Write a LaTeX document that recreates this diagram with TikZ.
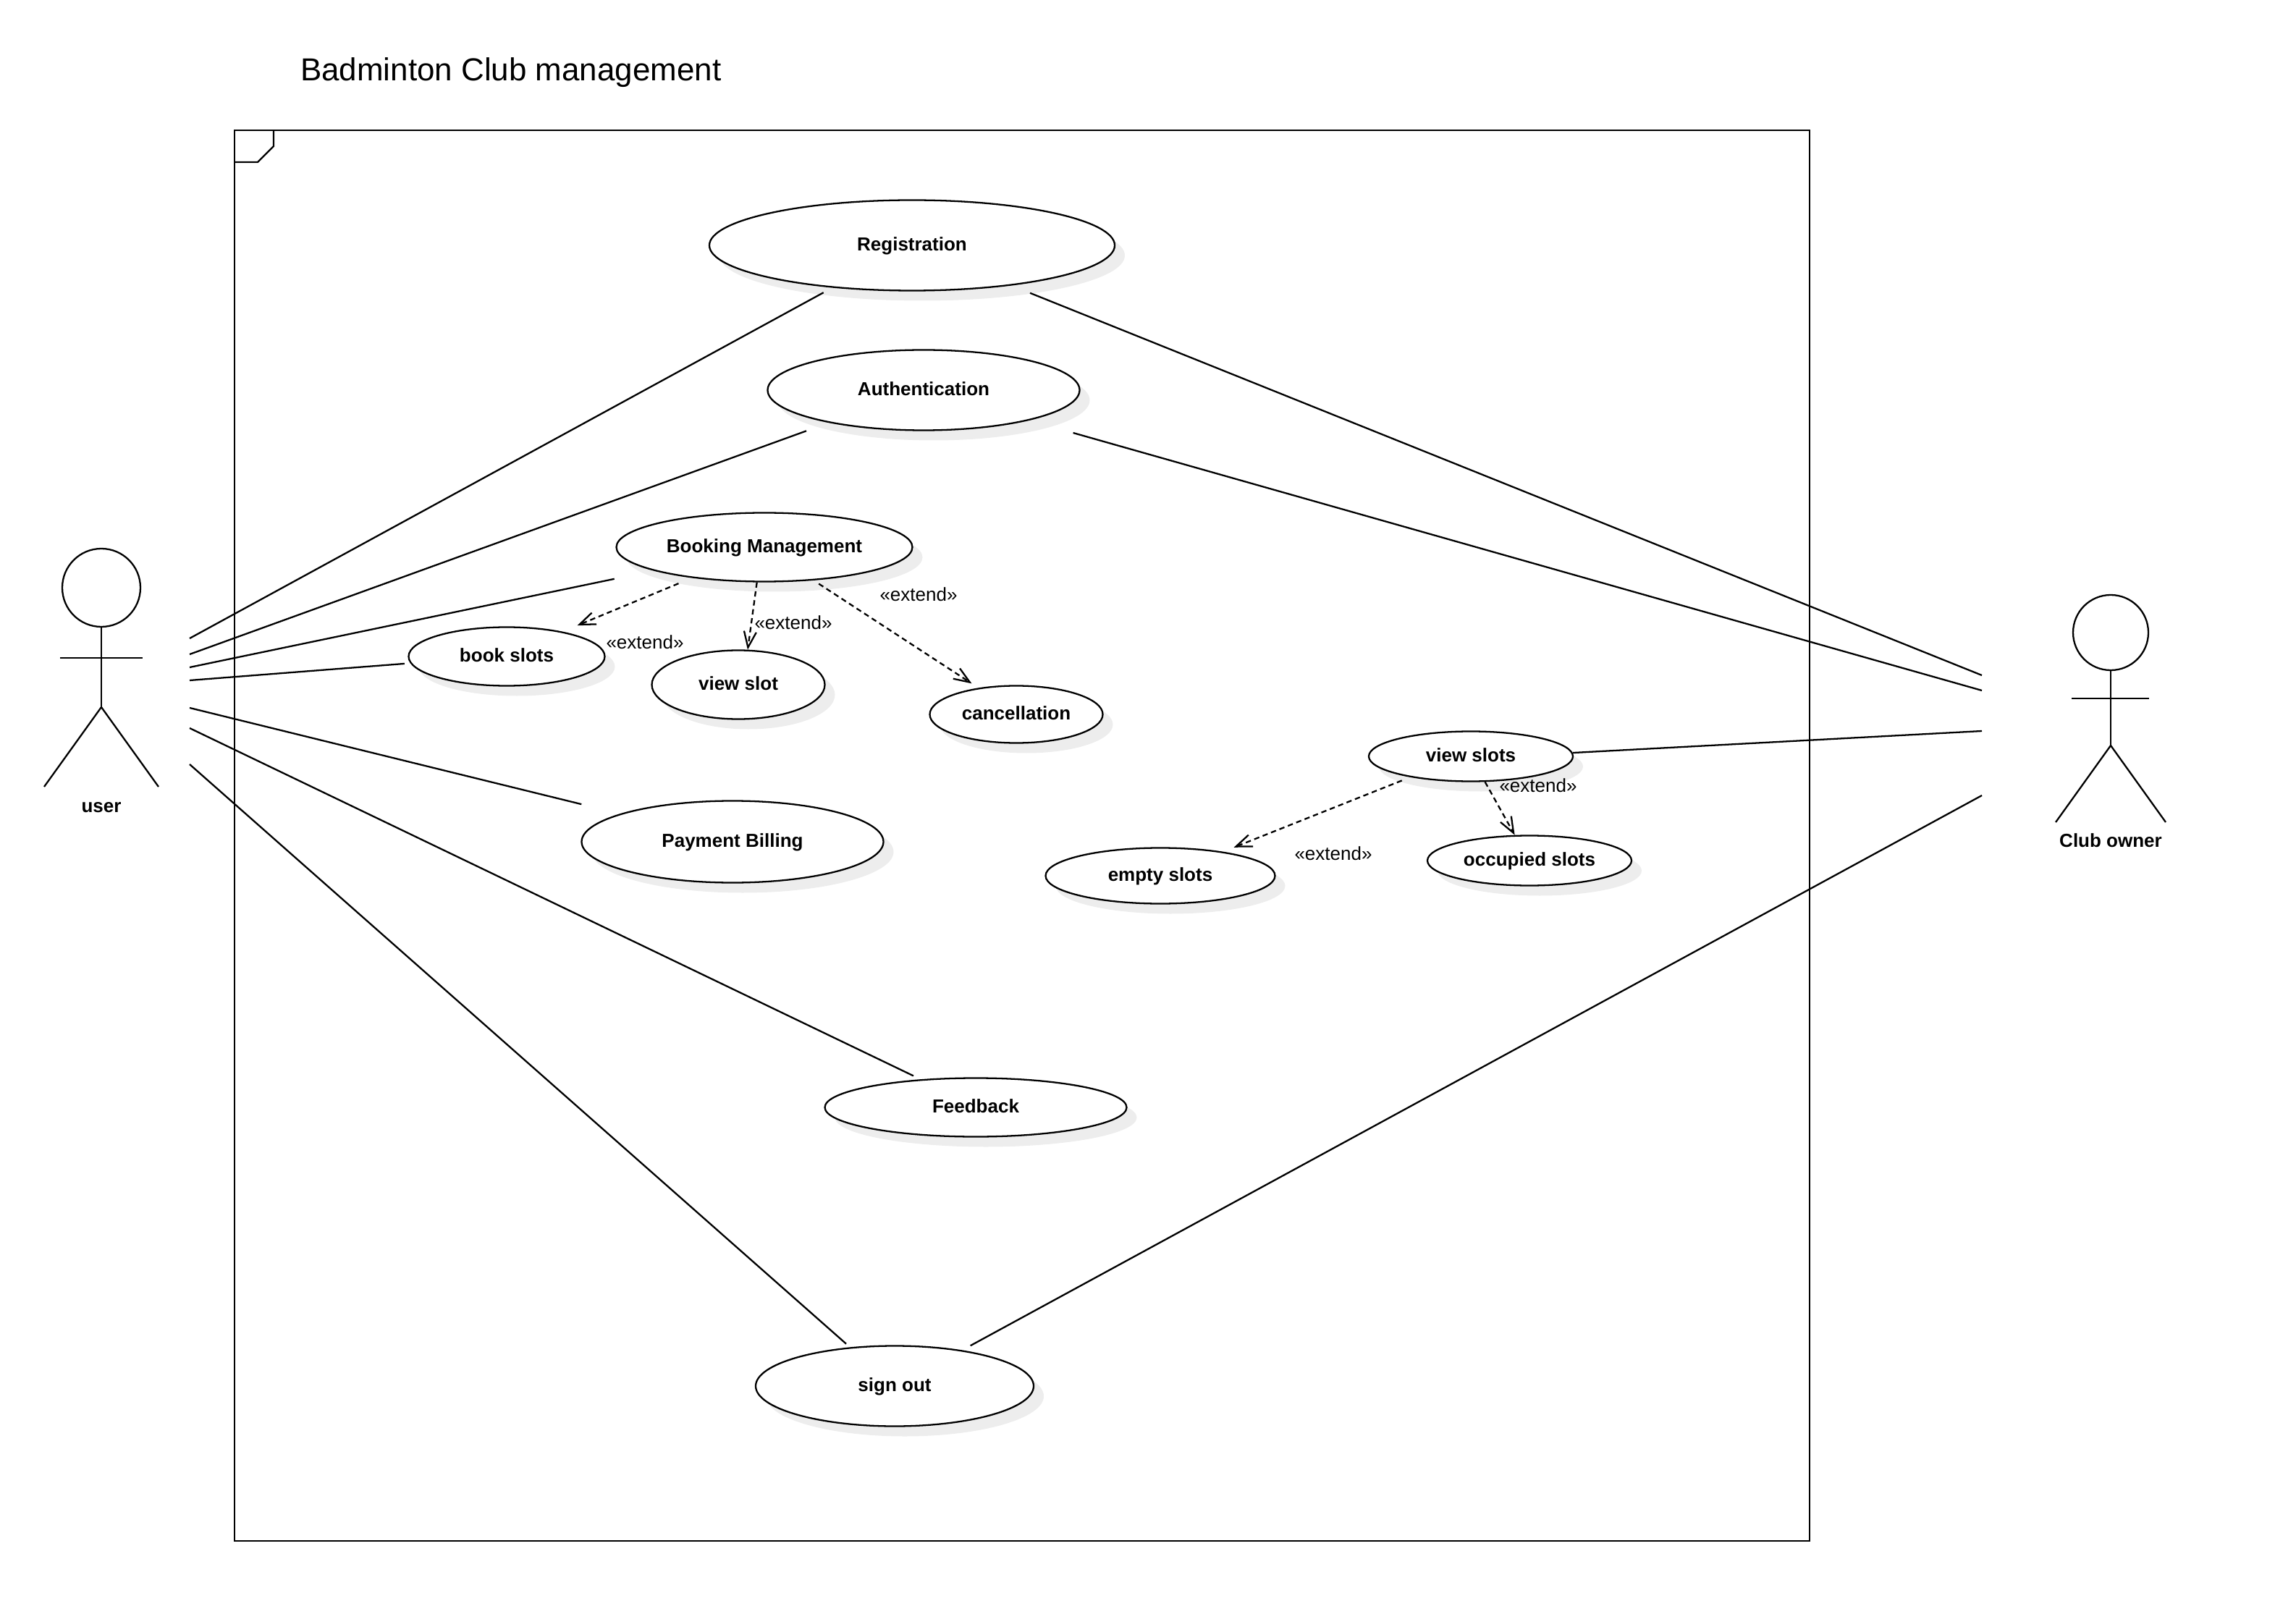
\documentclass[tikz,border=0pt]{standalone}
\usepackage{fontspec}
\setmainfont{Liberation Sans}
\usetikzlibrary{shapes.geometric,shadows,arrows.meta}
\tikzset{
  usecase/.style={ellipse,draw,fill=white,inner sep=0pt,text height=.73em,text depth=.28em,font=\fontsize{7.4}{9}\selectfont\bfseries,
    general shadow={shadow xshift=.14cm,shadow yshift=-.14cm,fill=black!7}},
  actorname/.style={font=\fontsize{7.4}{9}\selectfont\bfseries},
  extendtext/.style={font=\fontsize{7.4}{9}\selectfont},
  extendline/.style={dash pattern=on 2.1pt off 1.45pt,-{Straight Barb[length=.22cm,width=.17cm]}}
}
\begin{document}
\begin{tikzpicture}[x=1cm,y=-1cm,line width=.65pt]
\useasboundingbox (0,0) rectangle (31.72,22.12);

\node[anchor=west,inner sep=0pt,font=\fontsize{12.5}{15}\selectfont] (title) at (4.14,1.00) {Badminton Club management};

\draw (3.24,1.80) rectangle (25.00,21.29);
\draw (3.78,1.80) -- (3.78,2.02) -- (3.56,2.24) -- (3.24,2.24);

\draw (1.40,8.12) circle (.54);
\draw (1.40,8.66) -- (1.40,9.77);
\draw (.83,9.09) -- (1.97,9.09);
\draw (.61,10.87) -- (1.40,9.77) -- (2.19,10.87);
\node[actorname] (user) at (1.40,11.16) {user};

\draw (29.16,8.74) circle (.52);
\draw (29.16,9.26) -- (29.16,10.30);
\draw (28.62,9.65) -- (29.69,9.65);
\draw (28.40,11.36) -- (29.16,10.30) -- (29.92,11.36);
\node[actorname] (owner) at (29.16,11.61) {Club owner};

\node[usecase,minimum width=5.60cm,minimum height=1.25cm] (registration) at (12.60,3.39) {Registration};
\node[usecase,minimum width=4.31cm,minimum height=1.11cm] (authentication) at (12.76,5.39) {Authentication};
\node[usecase,minimum width=4.09cm,minimum height=.95cm] (booking) at (10.56,7.56) {Booking Management};
\node[usecase,minimum width=2.71cm,minimum height=.81cm] (bookslots) at (7.00,9.07) {book slots};
\node[usecase,minimum width=2.39cm,minimum height=.95cm] (viewslot) at (10.20,9.46) {view slot};
\node[usecase,minimum width=2.39cm,minimum height=.79cm] (cancellation) at (14.04,9.87) {cancellation};
\node[usecase,minimum width=2.82cm,minimum height=.69cm] (viewslots) at (20.32,10.45) {view slots};
\node[usecase,minimum width=3.17cm,minimum height=.77cm] (emptyslots) at (16.03,12.10) {empty slots};
\node[usecase,minimum width=2.82cm,minimum height=.69cm] (occupiedslots) at (21.13,11.89) {occupied slots};
\node[usecase,minimum width=4.17cm,minimum height=1.13cm] (payment) at (10.12,11.63) {Payment Billing};
\node[usecase,minimum width=4.17cm,minimum height=.81cm] (feedback) at (13.48,15.30) {Feedback};
\node[usecase,minimum width=3.84cm,minimum height=1.11cm] (signout) at (12.36,19.15) {sign out};

\coordinate (userA) at (2.62,8.82);
\coordinate (userB) at (2.62,9.04);
\coordinate (userC) at (2.62,9.22);
\coordinate (userD) at (2.62,9.40);
\coordinate (userE) at (2.62,9.78);
\coordinate (userF) at (2.62,10.06);
\coordinate (userG) at (2.62,10.56);
\coordinate (ownerA) at (27.38,9.33);
\coordinate (ownerB) at (27.38,9.54);
\coordinate (ownerC) at (27.38,10.10);
\coordinate (ownerD) at (27.38,10.99);

\draw[shorten >=.139cm] (userA) -- (registration.208.2);
\draw[shorten >=.33cm] (userB) -- (authentication.199.8);
\draw[shorten >=.555cm] (userC) -- (booking.192.1);
\draw[shorten >=.08cm] (userD) -- (bookslots.184.4);
\draw[shorten >=.55cm] (userE) -- (payment.166.3);
\draw[shorten >=.11cm] (userF) -- (feedback.153.9);
\draw[shorten >=.07cm] (userG) -- (signout.139.3);

\draw[shorten >=.276cm] (ownerA) -- (registration.338.7);
\draw[shorten >=.63cm] (ownerB) -- (authentication.344.6);
\draw (ownerC) -- (viewslots.2.5);
\draw[shorten >=.13cm] (ownerD) -- (signout.28.7);

\draw[extendline,shorten <=.2cm,shorten >=.22cm] (booking.203) -- (bookslots.24.4);
\draw[extendline] (booking.258.3) -- (viewslot.75.7);
\draw[extendline,shorten <=.085cm,shorten >=.11cm] (booking.326.5) -- (cancellation.145.5);
\draw[extendline,shorten <=.125cm,shorten >=.16cm] (viewslots.199.9) -- (emptyslots.21.8);
\draw[extendline] (viewslots.299.2) -- (occupiedslots.120.4);

\node[extendtext] (extendA) at (12.69,8.21) {«extend»};
\node[extendtext] (extendB) at (10.96,8.60) {«extend»};
\node[extendtext] (extendC) at (8.91,8.87) {«extend»};
\node[extendtext] (extendD) at (21.25,10.85) {«extend»};
\node[extendtext] (extendE) at (18.42,11.79) {«extend»};

\end{tikzpicture}
\end{document}
